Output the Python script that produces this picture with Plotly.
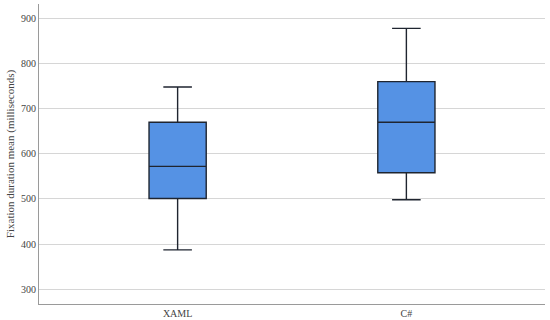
import plotly.graph_objects as go

categories = ["XAML", "C#"]
lower_whisker = [387, 498]
q1_vals = [501, 558]
median_vals = [572, 670]
q3_vals = [670, 760]
upper_whisker = [748, 878]
y_ticks = [300, 400, 500, 600, 700, 800, 900]

FONT = "Liberation Serif, DejaVu Serif, serif"

fig = go.Figure()
fig.add_trace(go.Box(
    x=categories,
    q1=q1_vals,
    median=median_vals,
    q3=q3_vals,
    lowerfence=lower_whisker,
    upperfence=upper_whisker,
    fillcolor="#5592e4",
    line=dict(color="#1f2530", width=1.4),
    whiskerwidth=0.5,
    width=0.25,
    boxpoints=False,
    hoverinfo="skip",
    showlegend=False,
))

fig.update_layout(
    width=550, height=320,
    margin=dict(l=39, r=5, t=4, b=16),
    paper_bgcolor="white", plot_bgcolor="white",
    font=dict(family=FONT, size=11, color="#444444"),
    xaxis=dict(
        type="category",
        range=[-0.606, 1.606],
        showgrid=False,
        showline=True, linecolor="#9a9a9a", linewidth=1,
        ticks="", tickfont=dict(size=10),
        zeroline=False,
        automargin=False,
    ),
    yaxis=dict(
        range=[267, 932],
        tickvals=y_ticks,
        showgrid=True, gridcolor="#d6d6d6", gridwidth=1,
        showline=True, linecolor="#9a9a9a", linewidth=1,
        ticks="", tickfont=dict(size=10),
        zeroline=False,
        automargin=False,
        title=dict(text="Fixation duration mean (milliseconds)", font=dict(size=11), standoff=4),
    ),
)

fig.write_html("out.html", config={"displayModeBar": False},
               post_script="document.body.style.margin='0';")
